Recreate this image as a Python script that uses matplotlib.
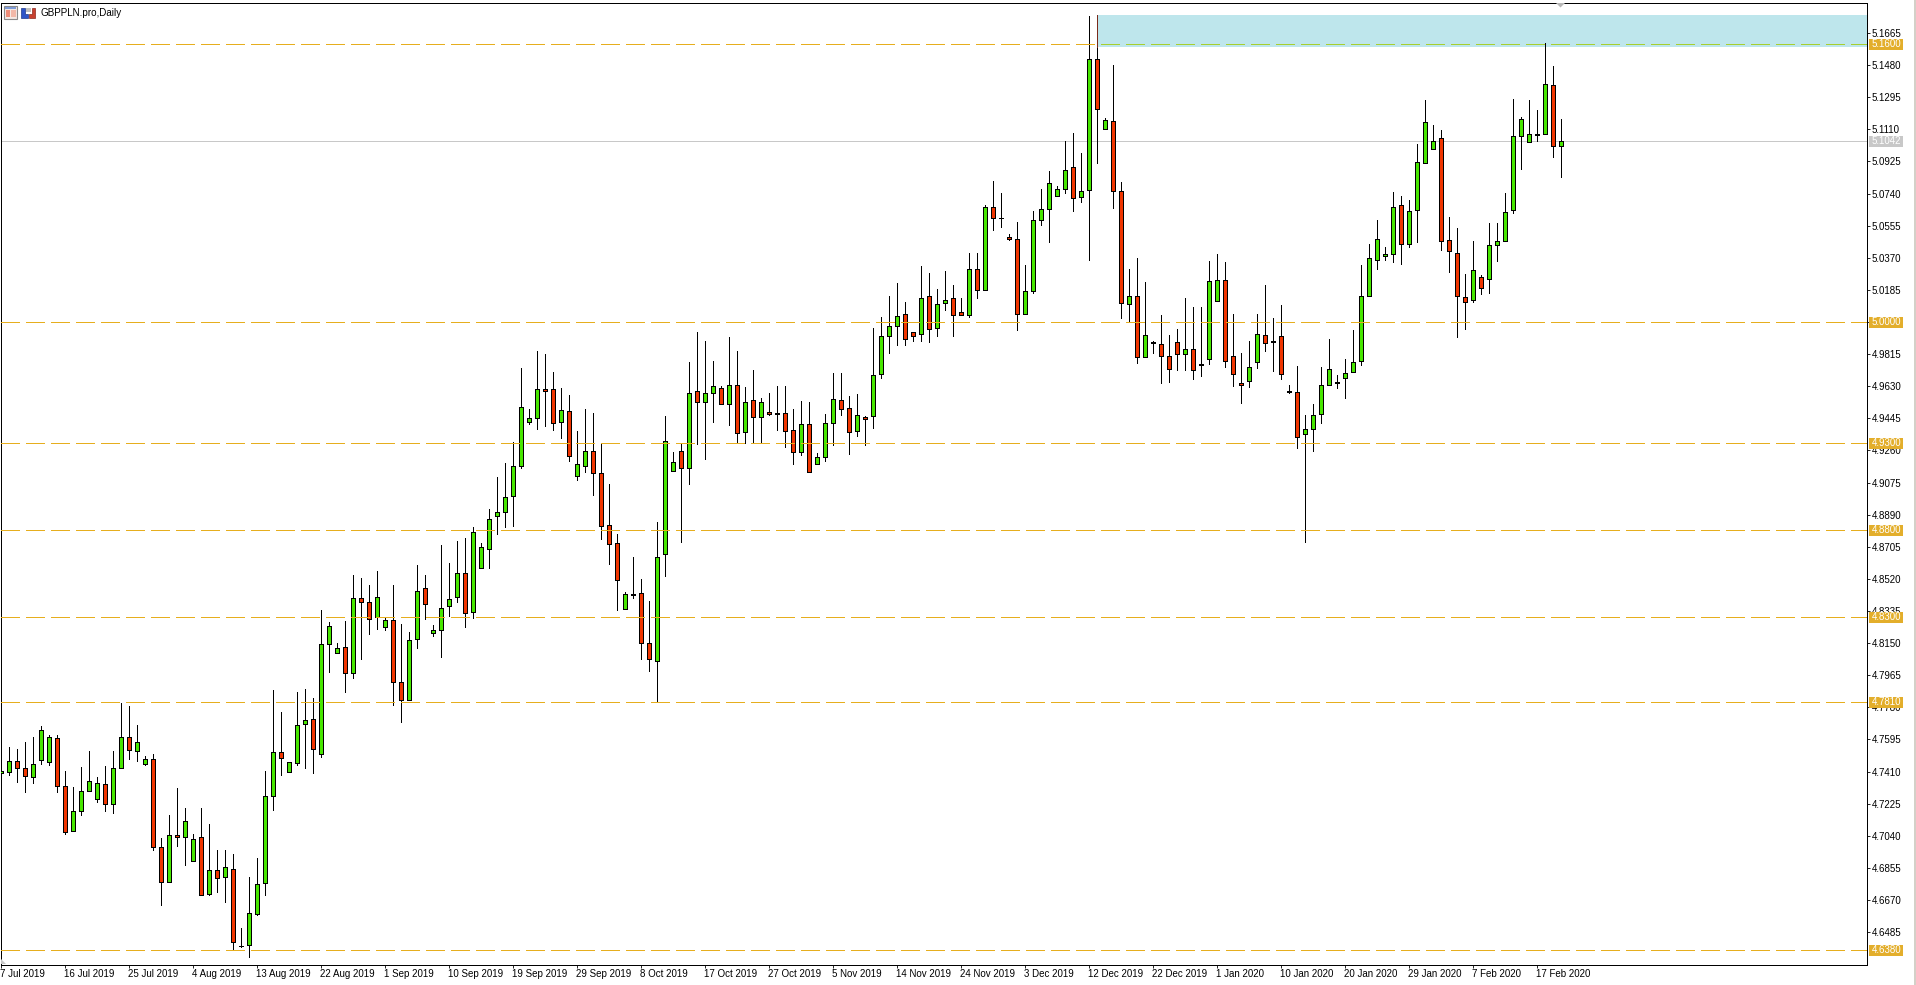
import matplotlib
matplotlib.use("Agg")
import matplotlib.pyplot as plt
from matplotlib.patches import Rectangle, Polygon

plt.rcParams['font.family'] = ['Liberation Sans', 'DejaVu Sans']
plt.rcParams['lines.scale_dashes'] = False

W, H = 1916, 985

# daily GBPPLN candles
opens = [
    4.7400, 4.7405, 4.7469, 4.7428, 4.7377, 4.7474, 4.7463, 4.7601, 4.7325, 4.7066,
    4.7181, 4.7296, 4.7250, 4.7336, 4.7221, 4.7428, 4.7607, 4.7530, 4.7455, 4.7480,
    4.6973, 4.6772, 4.7042, 4.7031, 4.6893, 4.7031, 4.6703, 4.6841, 4.6801, 4.6847,
    4.6407, 4.6409, 4.6591, 4.6766, 4.7267, 4.7521, 4.7405, 4.7457, 4.7682, 4.7711,
    4.7509, 4.8144, 4.8092, 4.8127, 4.7977, 4.8409, 4.8386, 4.8299, 4.8242, 4.8282,
    4.7925, 4.7821, 4.8173, 4.8466, 4.8207, 4.8224, 4.8363, 4.8415, 4.8553, 4.8328,
    4.8582, 4.8691, 4.8881, 4.8904, 4.8996, 4.9169, 4.9423, 4.9446, 4.9613, 4.9613,
    4.9423, 4.9486, 4.9112, 4.9169, 4.9256, 4.9129, 4.8829, 4.8726, 4.8345, 4.8432,
    4.8438, 4.8150, 4.8046, 4.8662, 4.9140, 4.9256, 4.9158, 4.9601, 4.9538, 4.9590,
    4.9618, 4.9526, 4.9636, 4.9365, 4.9549, 4.9451, 4.9480, 4.9474, 4.9474, 4.9376,
    4.9250, 4.9411, 4.9181, 4.9221, 4.9417, 4.9549, 4.9503, 4.9371, 4.9451, 4.9457,
    4.9699, 4.9918, 4.9976, 5.0045, 4.9941, 4.9929, 5.0148, 4.9964, 5.0108, 5.0137,
    5.0056, 5.0039, 5.0303, 5.0182, 5.0661, 5.0601, 5.0488, 5.0476, 5.0044, 5.0177,
    5.0586, 5.0649, 5.0724, 5.0764, 5.0891, 5.0718, 5.0759, 5.1513, 5.1110, 5.1156,
    5.0753, 5.0102, 5.0148, 4.9797, 4.9885, 4.9872, 4.9803, 4.9883, 4.9814, 4.9843,
    4.9756, 4.9785, 5.0119, 5.0240, 4.9803, 4.9647, 4.9658, 4.9768, 4.9923, 4.9889,
    4.9918, 4.9601, 4.9595, 4.9353, 4.9382, 4.9468, 4.9635, 4.9653, 4.9676, 4.9710,
    4.9774, 5.0148, 5.0356, 5.0379, 5.0390, 5.0672, 5.0448, 5.0644, 5.0914, 5.0995,
    5.1058, 5.0471, 5.0396, 5.0143, 5.0125, 5.0258, 5.0246, 5.0442, 5.0465, 5.0644,
    5.1070, 5.1035, 5.1081, 5.1081, 5.1364, 5.1012,
]
highs = [
    4.7411, 4.7551, 4.7540, 4.7580, 4.7609, 4.7672, 4.7618, 4.7618, 4.7411, 4.7321,
    4.7434, 4.7528, 4.7377, 4.7440, 4.7528, 4.7805, 4.7787, 4.7678, 4.7498, 4.7509,
    4.7027, 4.7158, 4.7313, 4.7198, 4.7048, 4.7198, 4.7106, 4.6956, 4.6956, 4.6933,
    4.6507, 4.6801, 4.6910, 4.7411, 4.7878, 4.7751, 4.7463, 4.7866, 4.7883, 4.7832,
    4.8342, 4.8271, 4.8150, 4.8276, 4.8541, 4.8524, 4.8484, 4.8564, 4.8294, 4.8484,
    4.8259, 4.8213, 4.8599, 4.8541, 4.8253, 4.8714, 4.8610, 4.8737, 4.8754, 4.8818,
    4.8726, 4.8921, 4.9106, 4.9186, 4.9307, 4.9734, 4.9497, 4.9832, 4.9814, 4.9711,
    4.9618, 4.9578, 4.9371, 4.9497, 4.9474, 4.9300, 4.9065, 4.8777, 4.8443, 4.8645,
    4.8518, 4.8392, 4.8847, 4.9457, 4.9250, 4.9296, 4.9768, 4.9941, 4.9889, 4.9774,
    4.9630, 4.9912, 4.9832, 4.9624, 4.9722, 4.9561, 4.9590, 4.9630, 4.9630, 4.9497,
    4.9544, 4.9538, 4.9244, 4.9469, 4.9705, 4.9705, 4.9572, 4.9584, 4.9457, 4.9964,
    5.0027, 5.0148, 5.0223, 5.0114, 4.9941, 5.0321, 5.0281, 5.0189, 5.0292, 5.0212,
    5.0137, 5.0396, 5.0396, 5.0672, 5.0810, 5.0741, 5.0505, 5.0574, 5.0327, 5.0638,
    5.0764, 5.0868, 5.0782, 5.1041, 5.1087, 5.0972, 5.1763, 5.1769, 5.1173, 5.1479,
    5.0805, 5.0304, 5.0367, 5.0229, 4.9889, 5.0039, 4.9923, 4.9958, 5.0137, 5.0085,
    5.0085, 5.0350, 5.0390, 5.0344, 5.0044, 4.9820, 4.9889, 5.0044, 5.0211, 5.0021,
    5.0096, 4.9635, 4.9745, 4.9462, 4.9526, 4.9739, 4.9900, 4.9693, 4.9785, 4.9952,
    5.0326, 5.0448, 5.0586, 5.0431, 5.0747, 5.0724, 5.0701, 5.1024, 5.1277, 5.1133,
    5.1104, 5.0603, 5.0540, 5.0275, 5.0465, 5.0269, 5.0569, 5.0569, 5.0742, 5.1283,
    5.1179, 5.1277, 5.1220, 5.1606, 5.1473, 5.1168,
]
lows = [
    4.7400, 4.7392, 4.7352, 4.7294, 4.7346, 4.7455, 4.7450, 4.7294, 4.7052, 4.7066,
    4.7160, 4.7296, 4.7236, 4.7185, 4.7173, 4.7428, 4.7484, 4.7473, 4.7450, 4.6960,
    4.6643, 4.6772, 4.6983, 4.6874, 4.6893, 4.6697, 4.6697, 4.6716, 4.6660, 4.6390,
    4.6401, 4.6344, 4.6586, 4.6701, 4.7190, 4.7392, 4.7405, 4.7446, 4.7432, 4.7403,
    4.7496, 4.7981, 4.8092, 4.7871, 4.7946, 4.8056, 4.8200, 4.8234, 4.8223, 4.7796,
    4.7695, 4.7821, 4.8119, 4.8286, 4.8188, 4.8067, 4.8305, 4.8386, 4.8240, 4.8292,
    4.8582, 4.8580, 4.8781, 4.8816, 4.8822, 4.9156, 4.9415, 4.9386, 4.9403, 4.9380,
    4.9334, 4.9202, 4.9092, 4.9138, 4.9006, 4.8747, 4.8608, 4.8338, 4.8345, 4.8407,
    4.8056, 4.7992, 4.7812, 4.8539, 4.9140, 4.8731, 4.9069, 4.9296, 4.9209, 4.9426,
    4.9526, 4.9409, 4.9302, 4.9302, 4.9311, 4.9302, 4.9467, 4.9375, 4.9277, 4.9179,
    4.9231, 4.9135, 4.9181, 4.9202, 4.9294, 4.9467, 4.9242, 4.9346, 4.9294, 4.9392,
    4.9680, 4.9824, 4.9870, 4.9870, 4.9893, 4.9893, 4.9887, 4.9922, 5.0072, 4.9922,
    5.0039, 5.0031, 5.0136, 5.0182, 5.0530, 5.0547, 5.0473, 4.9956, 5.0044, 5.0169,
    5.0561, 5.0463, 5.0724, 5.0745, 5.0642, 5.0693, 5.0359, 5.0918, 5.1110, 5.0659,
    5.0025, 4.9998, 4.9762, 4.9797, 4.9824, 4.9651, 4.9657, 4.9726, 4.9726, 4.9674,
    4.9691, 4.9760, 5.0119, 4.9743, 4.9634, 4.9534, 4.9628, 4.9735, 4.9835, 4.9720,
    4.9674, 4.9589, 4.9276, 4.8735, 4.9259, 4.9420, 4.9635, 4.9622, 4.9564, 4.9710,
    4.9754, 5.0148, 5.0308, 5.0360, 5.0348, 5.0336, 5.0431, 5.0463, 5.0914, 5.0995,
    5.0417, 5.0290, 4.9916, 4.9962, 5.0114, 5.0164, 5.0169, 5.0354, 5.0465, 5.0630,
    5.0884, 5.1035, 5.1045, 5.1081, 5.0953, 5.0838,
]
closes = [
    4.7411, 4.7469, 4.7428, 4.7382, 4.7451, 4.7647, 4.7607, 4.7325, 4.7060, 4.7181,
    4.7296, 4.7354, 4.7342, 4.7221, 4.7428, 4.7607, 4.7532, 4.7578, 4.7480, 4.6973,
    4.6772, 4.7042, 4.7031, 4.7123, 4.7019, 4.6697, 4.6841, 4.6795, 4.6858, 4.6426,
    4.6403, 4.6593, 4.6760, 4.7267, 4.7521, 4.7486, 4.7463, 4.7676, 4.7705, 4.7538,
    4.8144, 4.8248, 4.8121, 4.7977, 4.8409, 4.8386, 4.8288, 4.8415, 4.8282, 4.7925,
    4.7821, 4.8167, 4.8449, 4.8374, 4.8224, 4.8351, 4.8403, 4.8553, 4.8322, 4.8789,
    4.8703, 4.8864, 4.8904, 4.8991, 4.9169, 4.9509, 4.9446, 4.9613, 4.9605, 4.9417,
    4.9492, 4.9227, 4.9181, 4.9256, 4.9129, 4.8824, 4.8720, 4.8512, 4.8432, 4.8428,
    4.8150, 4.8057, 4.8645, 4.9313, 4.9192, 4.9158, 4.9590, 4.9538, 4.9590, 4.9630,
    4.9526, 4.9636, 4.9359, 4.9538, 4.9451, 4.9538, 4.9472, 4.9472, 4.9371, 4.9250,
    4.9411, 4.9135, 4.9221, 4.9417, 4.9555, 4.9497, 4.9365, 4.9463, 4.9444, 4.9693,
    4.9918, 4.9976, 5.0033, 4.9901, 4.9918, 5.0137, 4.9958, 5.0102, 5.0125, 5.0039,
    5.0039, 5.0304, 5.0182, 5.0661, 5.0597, 5.0597, 5.0480, 5.0044, 5.0177, 5.0586,
    5.0649, 5.0799, 5.0764, 5.0874, 5.0713, 5.0753, 5.1513, 5.1225, 5.1162, 5.0753,
    5.0108, 5.0148, 4.9797, 4.9923, 4.9877, 4.9803, 4.9728, 4.9814, 4.9843, 4.9722,
    4.9755, 5.0235, 5.0240, 4.9774, 4.9699, 4.9635, 4.9739, 4.9929, 4.9877, 4.9887,
    4.9699, 4.9599, 4.9336, 4.9382, 4.9462, 4.9635, 4.9727, 4.9647, 4.9704, 4.9768,
    5.0148, 5.0367, 5.0477, 5.0390, 5.0661, 5.0448, 5.0638, 5.0920, 5.1151, 5.1041,
    5.0465, 5.0408, 5.0148, 5.0114, 5.0298, 5.0194, 5.0442, 5.0465, 5.0632, 5.1070,
    5.1168, 5.1081, 5.1076, 5.1369, 5.1012, 5.1042,
]

date_labels = [
    '7 Jul 2019', '16 Jul 2019', '25 Jul 2019', '4 Aug 2019', '13 Aug 2019',
    '22 Aug 2019', '1 Sep 2019', '10 Sep 2019', '19 Sep 2019', '29 Sep 2019',
    '8 Oct 2019', '17 Oct 2019', '27 Oct 2019', '5 Nov 2019', '14 Nov 2019',
    '24 Nov 2019', '3 Dec 2019', '12 Dec 2019', '22 Dec 2019', '1 Jan 2020',
    '10 Jan 2020', '20 Jan 2020', '29 Jan 2020', '7 Feb 2020', '17 Feb 2020',
]
price_ticks = [
    5.1665, 5.1480, 5.1295, 5.1110, 5.0925, 5.0740, 5.0555, 5.0370, 5.0185, 5.0000,
    4.9815, 4.9630, 4.9445, 4.9260, 4.9075, 4.8890, 4.8705, 4.8520, 4.8335, 4.8150,
    4.7965, 4.7780, 4.7595, 4.7410, 4.7225, 4.7040, 4.6855, 4.6670, 4.6485,
]
levels = [5.16, 5.00, 4.93, 4.88, 4.83, 4.781, 4.638]
last_price = 5.1042
zone_low, zone_high = 5.1586, 5.1769
zone_start_bar = 137

UP = '#47E600'
DOWN = '#F03500'
GOLD = '#E6AE1E'
GREY = '#C8C8C8'
ZONE = '#BEE6EC'
FS = 7.0
LW = 0.6

fig = plt.figure(figsize=(W / 100, H / 100), dpi=100, facecolor='white')
ax = fig.add_axes([0.5 / W, (H - 964.5) / H, 1866 / W, 962 / H])
ax.set_xlim(0, 233.25)
ax.set_ylim(4.6298, 5.1841)

# zone and last price stay behind the candles
zone = Rectangle((zone_start_bar, zone_low), 233.25 - zone_start_bar, zone_high - zone_low,
                 facecolor=ZONE, edgecolor='none', zorder=1)
ax.add_patch(zone)
ax.axhline(last_price, color=GREY, lw=LW, zorder=1.2, antialiased=False)

bars = list(range(len(opens)))
colors = [UP if c > o else DOWN for o, c in zip(opens, closes)]
bottoms = [min(o, c) for o, c in zip(opens, closes)]
sizes = [abs(c - o) for o, c in zip(opens, closes)]

ax.vlines(bars, lows, highs, colors='black', lw=LW, zorder=2, antialiased=False)
ax.bar(bars, sizes, bottom=bottoms, width=0.5, color=colors, edgecolor='black',
       linewidth=LW, zorder=3, antialiased=False)
ax.plot([zone_start_bar, zone_start_bar], [zone_low, zone_high], color='#7A2A1A', lw=LW,
        zorder=3.5, antialiased=False)

# horizontal levels sit on top of the candles
for level in levels:
    ax.plot([0, 233.25], [level, level], color=GOLD, lw=LW, ls=(0, (12.96, 4.32)),
            zorder=4, antialiased=False)
inside = ax.plot([0, 233.25], [levels[0], levels[0]], color='#A8CF2E', lw=LW,
                 ls=(0, (12.96, 4.32)), zorder=4.5, antialiased=False)[0]
inside.set_clip_path(zone)

ax.yaxis.tick_right()
ax.set_yticks(price_ticks)
ax.set_yticklabels(['%.4f' % p for p in price_ticks], fontsize=FS)
ax.set_xticks(bars[::8][:len(date_labels)])
ax.set_xticklabels(date_labels, fontsize=FS, ha='left')
ax.tick_params(axis='y', length=2.2, width=LW, pad=1.6)
ax.tick_params(axis='x', length=2.2, width=LW, pad=1.2)
for spine in ax.spines.values():
    spine.set_linewidth(0.72)

# overlay in picture pixels for the price boxes and the terminal furniture
ov = fig.add_axes([0, 0, 1, 1], facecolor='none')
ov.set_xlim(0, W)
ov.set_ylim(H, 0)
ov.axis('off')


def price_y(p):
    return H - ax.transData.transform((0, p))[1]


for level in levels:
    y = price_y(level)
    ov.add_patch(Rectangle((1869, y - 5.5), 34, 11, facecolor='#E3AE2B', edgecolor='none'))
    ov.text(1872, y, '%.4f' % level, color='white', fontsize=FS, va='center', ha='left')
y = price_y(last_price)
ov.add_patch(Rectangle((1869, y - 5.5), 34, 11, facecolor=GREY, edgecolor='none'))
ov.text(1872, y, '%.4f' % last_price, color='white', fontsize=FS, va='center', ha='left')

# chart title and small toolbar icons
ov.text(41, 12.5, 'GBPPLN.pro,Daily', fontsize=7.1, va='center', ha='left', color='black')
ov.add_patch(Rectangle((4.5, 5.5), 13, 13, facecolor='#F4E9E4', edgecolor='#8A8A8A', lw=0.8))
ov.add_patch(Rectangle((5.5, 6.5), 11, 2, facecolor='#7E9BD6', edgecolor='none'))
ov.add_patch(Rectangle((6, 9.5), 4.5, 7.5, facecolor='#EE8C78', edgecolor='none'))
ov.add_patch(Rectangle((11.5, 9.5), 4.5, 7.5, facecolor='#F2B8A8', edgecolor='none'))
ov.add_patch(Polygon([(21.5, 8), (25, 8), (25, 14), (28, 14), (28, 18), (21.5, 18)],
                     facecolor='#2F55C8', edgecolor='#1E3A8A', lw=0.5))
ov.add_patch(Polygon([(29, 14), (32, 14), (32, 8), (35.5, 8), (35.5, 18), (29, 18)],
                     facecolor='#C8402F', edgecolor='#8A2A20', lw=0.5))
ov.add_patch(Rectangle((26, 7.5), 5, 4.5, facecolor='#C0C0C0', edgecolor='none'))

# chart shift marker, corner marker and window edge
ov.add_patch(Polygon([(1556, 3), (1565, 3), (1560.5, 7.5)], facecolor='#B8B8B8', edgecolor='none'))
ov.add_patch(Polygon([(1, 959), (1, 964), (6, 964)], facecolor='#C8C8C8', edgecolor='none'))
ov.add_patch(Rectangle((1914.5, 0), 1.5, H, facecolor='#D4D0C8', edgecolor='none'))

fig.savefig('out.png', dpi=100)
